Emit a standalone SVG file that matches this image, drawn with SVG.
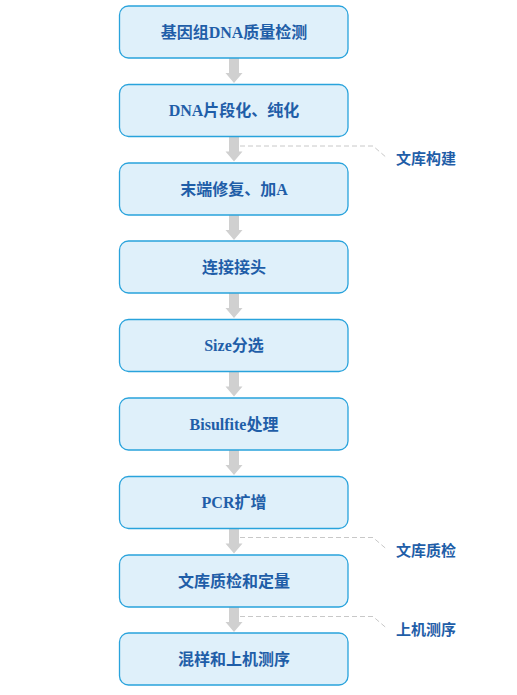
<svg xmlns="http://www.w3.org/2000/svg" xmlns:xlink="http://www.w3.org/1999/xlink" width="517" height="695" viewBox="0 0 517 695">
<style>
.box{fill:#dff0fa;stroke:#29a3dc;stroke-width:1.3}
.t{font-family:"Liberation Serif","Noto Sans CJK SC",serif;font-weight:bold;font-size:16px;fill:#1f5ea8;text-anchor:middle;dominant-baseline:central}
.lab{font-family:"Liberation Serif","Noto Sans CJK SC",serif;font-weight:bold;font-size:15px;fill:#1f5ea8;dominant-baseline:central}
.dash{fill:none;stroke:#c8c8c8;stroke-width:1;stroke-dasharray:5 3}
.arr{fill:#d0d0d0}
</style>
<defs>
<path id="ar" d="M229,0 H239 V15 H242.5 L234,25 L225.5,15 H229 Z"/>
</defs>
<rect width="517" height="695" fill="#ffffff"/>
<g id="connectors">
<use xlink:href="#ar" class="arr" y="58"/>
<use xlink:href="#ar" class="arr" y="136.5"/>
<use xlink:href="#ar" class="arr" y="215"/>
<use xlink:href="#ar" class="arr" y="293"/>
<use xlink:href="#ar" class="arr" y="371.5"/>
<use xlink:href="#ar" class="arr" y="450"/>
<use xlink:href="#ar" class="arr" y="528.5"/>
<use xlink:href="#ar" class="arr" y="607"/>
<path class="dash" d="M240,146 H373 L387,158"/>
<path class="dash" d="M240,537.5 H373 L387,549.5"/>
<path class="dash" d="M240,616.5 H373 L387,628.5"/>
</g>
<g id="n1"><rect class="box" x="119.5" y="6" width="228.5" height="52" rx="9"/><text class="t" x="234" y="32">基因组DNA质量检测</text></g>
<g id="n2"><rect class="box" x="119.5" y="84.5" width="228.5" height="52" rx="9"/><text class="t" x="234" y="110.5">DNA片段化、纯化</text></g>
<g id="n3"><rect class="box" x="119.5" y="163" width="228.5" height="52" rx="9"/><text class="t" x="234" y="189">末端修复、加A</text></g>
<g id="n4"><rect class="box" x="119.5" y="241" width="228.5" height="52" rx="9"/><text class="t" x="234" y="267">连接接头</text></g>
<g id="n5"><rect class="box" x="119.5" y="319.5" width="228.5" height="52" rx="9"/><text class="t" x="234" y="345.5">Size分选</text></g>
<g id="n6"><rect class="box" x="119.5" y="398" width="228.5" height="52" rx="9"/><text class="t" x="234" y="424">Bisulfite处理</text></g>
<g id="n7"><rect class="box" x="119.5" y="476.5" width="228.5" height="52" rx="9"/><text class="t" x="234" y="502.5">PCR扩增</text></g>
<g id="n8"><rect class="box" x="119.5" y="555" width="228.5" height="52" rx="9"/><text class="t" x="234" y="581">文库质检和定量</text></g>
<g id="n9"><rect class="box" x="119.5" y="633" width="228.5" height="52" rx="9"/><text class="t" x="234" y="659">混样和上机测序</text></g>
<g id="labels">
<text class="lab" x="396" y="158.5">文库构建</text>
<text class="lab" x="396" y="551">文库质检</text>
<text class="lab" x="396" y="630">上机测序</text>
</g>
</svg>
